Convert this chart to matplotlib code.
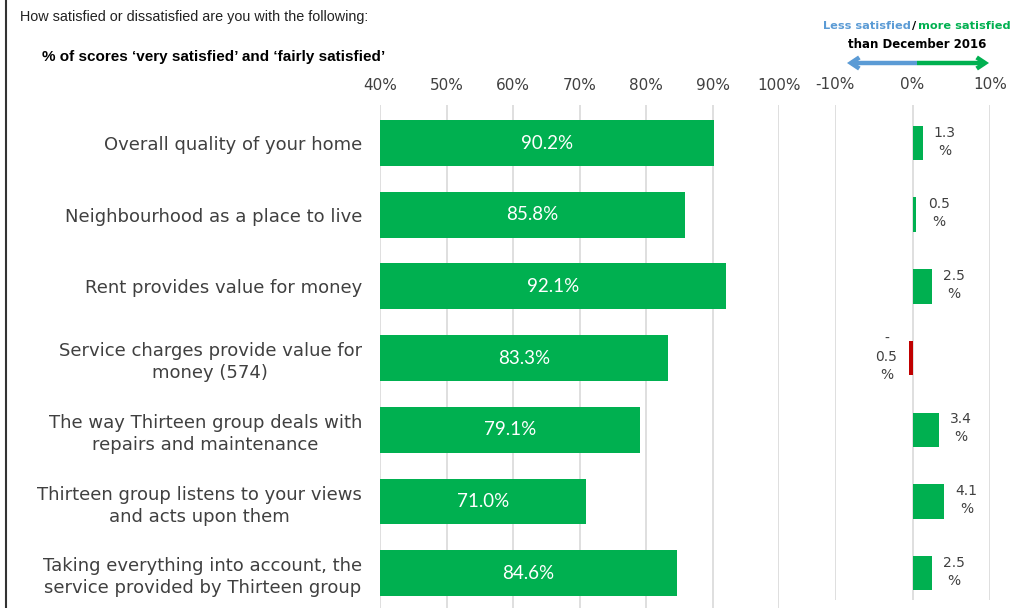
import matplotlib
matplotlib.use("Agg")
import matplotlib.pyplot as plt
from matplotlib.patches import FancyArrowPatch
from matplotlib.lines import Line2D

categories = [
    "Overall quality of your home",
    "Neighbourhood as a place to live",
    "Rent provides value for money",
    "Service charges provide value for\nmoney (574)",
    "The way Thirteen group deals with\nrepairs and maintenance",
    "Thirteen group listens to your views\nand acts upon them",
    "Taking everything into account, the\nservice provided by Thirteen group",
]
scores = [90.2, 85.8, 92.1, 83.3, 79.1, 71.0, 84.6]
changes = [1.3, 0.5, 2.5, -0.5, 3.4, 4.1, 2.5]
left_ticks = [40, 50, 60, 70, 80, 90, 100]
left_tick_labels = ["40%", "50%", "60%", "70%", "80%", "90%", "100%"]
right_ticks = [-10, 0, 10]
right_tick_labels = ["-10%", "0%", "10%"]

GREEN = "#00B050"
RED = "#C00000"
BLUE = "#5B9BD5"
GRID = "#D9D9D9"
TXT = "#404040"

W, H = 1013, 608
fig = plt.figure(figsize=(W / 100, H / 100), dpi=100)
fig.patch.set_facecolor("white")

def box(x0, x1, y0, y1):
    return [x0 / W, 1 - y1 / H, (x1 - x0) / W, (y1 - y0) / H]

n = len(categories)
ys = list(range(n))
row = 71.7
top_off = (143 - 105) / row

# Left panel
axL = fig.add_axes(box(380, 779, 105, 608))
axL.barh(ys, scores, height=0.64, color=GREEN, zorder=3, left=0)
axL.set_xlim(40, 100)
axL.set_ylim(6 + (608 - 573.2) / row, -top_off)
axL.set_xticks(left_ticks)
axL.set_xticklabels(left_tick_labels, fontsize=11, color=TXT, family="DejaVu Sans")
axL.xaxis.tick_top()
axL.tick_params(axis="x", length=0, pad=9)
axL.set_yticks(ys)
axL.set_yticklabels(categories, fontsize=13, color=TXT, family="DejaVu Sans",
                    multialignment="center", linespacing=1.3)
axL.tick_params(axis="y", length=0, pad=13)
axL.grid(axis="x", color=GRID, lw=1.2, zorder=0)
for s in axL.spines.values():
    s.set_visible(False)
for y, v in zip(ys, scores):
    axL.text((40 + v) / 2, y, f"{v:.1f}%", ha="center", va="center",
             color="white", fontsize=13.5, family="Lato", weight="normal", zorder=4)

# Right panel
axR = fig.add_axes(box(835, 990, 105, 600))
colors = [GREEN if c >= 0 else RED for c in changes]
axR.barh(ys, changes, height=0.48, color=colors, zorder=3)
axR.set_xlim(-10, 10)
axR.set_ylim(6 + (600 - 573.2) / row, -top_off)
axR.set_xticks(right_ticks)
axR.set_xticklabels(right_tick_labels, fontsize=11, color=TXT, family="DejaVu Sans")
axR.xaxis.tick_top()
axR.tick_params(axis="x", length=0, pad=9)
axR.set_yticks([])
axR.grid(axis="x", color=GRID, lw=1.2, zorder=0)
for s in axR.spines.values():
    s.set_visible(False)
for y, c in zip(ys, changes):
    if c >= 0:
        axR.annotate(f"{c:.1f}\n%", (c, y), xytext=(16, 1), textcoords="offset points",
                     ha="center", va="center", fontsize=10, color=TXT,
                     family="DejaVu Sans", linespacing=1.35)
    else:
        axR.annotate(f"-\n{abs(c):.1f}\n%", (c, y), xytext=(-16, 1), textcoords="offset points",
                     ha="center", va="center", fontsize=10, color=TXT,
                     family="DejaVu Sans", linespacing=1.35)

# Header texts
fig.text(20 / W, 1 - 17 / H, "How satisfied or dissatisfied are you with the following:",
         fontsize=10.4, color="#222222", family="Liberation Sans", va="center", ha="left")
fig.text(42 / W, 1 - 57 / H, "% of scores \u2018very satisfied\u2019 and \u2018fairly satisfied\u2019",
         fontsize=11, color="black", family="Liberation Sans", weight="bold",
         va="center", ha="left")

fig.text(911 / W, 1 - 26 / H, "Less satisfied", fontsize=8.2, color=BLUE,
         family="DejaVu Sans", weight="bold", va="center", ha="right")
fig.text(914.5 / W, 1 - 26 / H, "/", fontsize=8.2, color="black",
         family="DejaVu Sans", weight="bold", va="center", ha="center")
fig.text(918 / W, 1 - 26 / H, "more satisfied", fontsize=8.2, color=GREEN,
         family="DejaVu Sans", weight="bold", va="center", ha="left")
fig.text(917 / W, 1 - 44 / H, "than December 2016", fontsize=8.5, color="black",
         family="DejaVu Sans", weight="bold", va="center", ha="center")

# Arrows
yA = 1 - 63 / H
for x_end, col in [(847, BLUE), (989, GREEN)]:
    arr = FancyArrowPatch((917 / W, yA), (x_end / W, yA), transform=fig.transFigure,
                          arrowstyle="->,head_length=6,head_width=4", lw=3.2,
                          color=col, shrinkA=0, shrinkB=0, joinstyle="miter",
                          capstyle="butt")
    fig.add_artist(arr)

# Left border
fig.add_artist(Line2D([6 / W, 6 / W], [0, 1], transform=fig.transFigure,
                      color="#333333", lw=1.5))

fig.savefig("out.png", dpi=100, facecolor="white")
